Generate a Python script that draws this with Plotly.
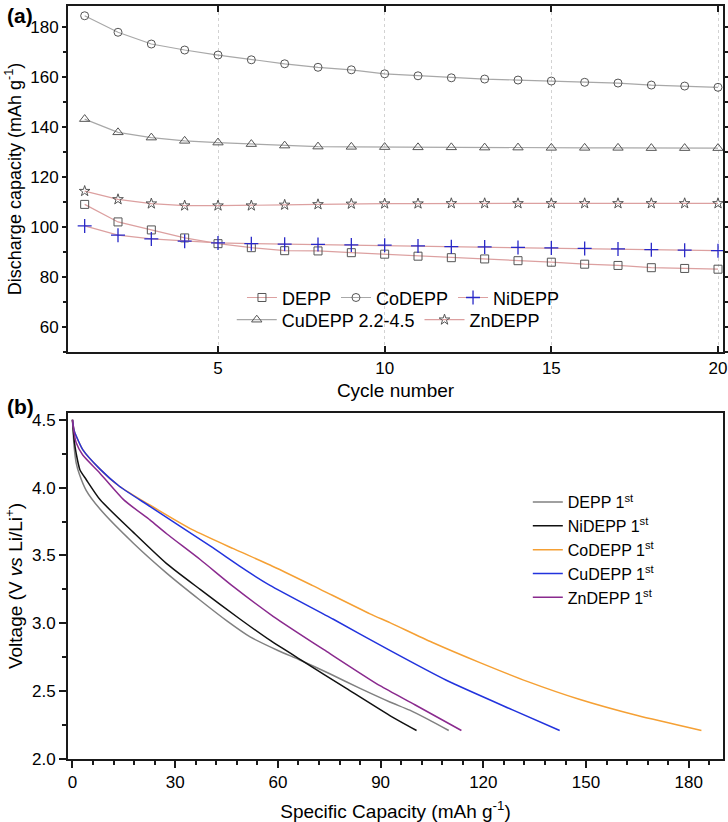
import plotly.graph_objects as go

# ---------- Panel (a) data ----------
cycles = list(range(1, 21))
depp = [109.0, 102.0, 98.8, 95.6, 93.3, 91.7, 90.5, 90.4, 89.7, 89.1,
        88.3, 87.7, 87.2, 86.5, 85.9, 85.1, 84.6, 83.7, 83.4, 83.1]
codepp = [184.4, 177.8, 173.1, 170.7, 168.7, 166.8, 165.2, 163.8, 162.8, 161.2,
          160.4, 159.6, 159.1, 158.7, 158.3, 157.8, 157.5, 156.7, 156.3, 155.8]
nidepp = [100.4, 96.7, 95.2, 94.3, 93.6, 93.3, 93.1, 93.0, 92.8, 92.7,
          92.4, 92.1, 92.0, 91.8, 91.6, 91.4, 91.2, 90.9, 90.7, 90.5]
cudepp = [143.1, 137.8, 135.7, 134.4, 133.7, 133.1, 132.5, 132.1, 132.0, 131.9,
          131.8, 131.8, 131.7, 131.7, 131.6, 131.6, 131.6, 131.5, 131.5, 131.5]
zndepp = [114.3, 111.0, 109.3, 108.5, 108.5, 108.5, 108.8, 109.0, 109.2, 109.3,
          109.3, 109.4, 109.4, 109.4, 109.4, 109.4, 109.4, 109.4, 109.4, 109.4]

# ---------- Panel (b) data ----------
depp_cap = [0, 0.5, 1.1, 2, 4, 8.1, 17.8, 27.5, 37.3, 45, 51.9, 60, 66.4, 75, 84, 92.7, 98.5, 104, 109.9]
depp_v = [4.5, 4.3, 4.18, 4.10, 3.98, 3.84, 3.59, 3.37, 3.17, 3.02, 2.90, 2.80, 2.73, 2.63, 2.52, 2.42, 2.36, 2.29, 2.21]
ni_cap = [0, 0.5, 1.1, 2.2, 4, 8.1, 17.8, 27.5, 37.3, 49, 58, 67.4, 80, 92.7, 100.5]
ni_v = [4.5, 4.35, 4.25, 4.13, 4.06, 3.91, 3.67, 3.44, 3.25, 3.03, 2.87, 2.72, 2.52, 2.32, 2.21]
co_cap = [0, 0.5, 1.1, 3, 7.9, 13.7, 22.7, 35, 47, 57.7, 70, 86.9, 92.7, 105, 119, 133, 148, 165, 183.7]
co_v = [4.5, 4.42, 4.38, 4.28, 4.14, 4.01, 3.87, 3.69, 3.55, 3.43, 3.28, 3.07, 3.005, 2.86, 2.71, 2.57, 2.44, 2.32, 2.21]
cu_cap = [0, 0.5, 1.1, 3, 7.9, 13.7, 22.7, 40.2, 50.7, 57.7, 76.2, 92.7, 109.2, 128.7, 142.3]
cu_v = [4.5, 4.42, 4.38, 4.28, 4.14, 4.01, 3.86, 3.57, 3.39, 3.28, 3.03, 2.80, 2.58, 2.36, 2.21]
zn_cap = [0, 0.5, 1.1, 3, 7.9, 15, 22.7, 27.5, 37.3, 47, 58.7, 75, 89.8, 100, 113.6]
zn_v = [4.5, 4.40, 4.33, 4.24, 4.11, 3.91, 3.76, 3.66, 3.47, 3.27, 3.05, 2.78, 2.54, 2.40, 2.21]

FONT = "Liberation Sans, Arial, sans-serif"
PINK = "#dca0a0"
GREY = "#a8a8a8"
MK = "#555555"

fig = go.Figure()

# Panel (a) traces
fig.add_trace(go.Scatter(x=cycles, y=depp, name="DEPP", mode="lines+markers",
                         line=dict(color=PINK, width=1.2),
                         marker=dict(symbol="square-open", size=8, color=MK, line=dict(width=1)),
                         xaxis="x", yaxis="y", legend="legend"))
fig.add_trace(go.Scatter(x=cycles, y=codepp, name="CoDEPP", mode="lines+markers",
                         line=dict(color=GREY, width=1.2),
                         marker=dict(symbol="circle-open", size=8, color=MK, line=dict(width=1)),
                         xaxis="x", yaxis="y", legend="legend"))
fig.add_trace(go.Scatter(x=cycles, y=nidepp, name="NiDEPP", mode="lines+markers",
                         line=dict(color=PINK, width=1.2),
                         marker=dict(symbol="cross-thin-open", size=10, color="#2828c8", line=dict(width=1.3, color="#2828c8")),
                         xaxis="x", yaxis="y", legend="legend"))
fig.add_trace(go.Scatter(x=cycles, y=cudepp, name="CuDEPP 2.2-4.5", mode="lines+markers",
                         line=dict(color=GREY, width=1.2),
                         marker=dict(symbol="triangle-up-open", size=9, color=MK, line=dict(width=1)),
                         xaxis="x", yaxis="y", legend="legend2"))
fig.add_trace(go.Scatter(x=cycles, y=zndepp, name="ZnDEPP", mode="lines+markers",
                         line=dict(color=PINK, width=1.2),
                         marker=dict(symbol="star-open", size=8, color=MK, line=dict(width=1)),
                         xaxis="x", yaxis="y", legend="legend2"))

# Panel (b) traces
curves = [
    ("DEPP 1<sup>st</sup>", depp_cap, depp_v, "#808080"),
    ("NiDEPP 1<sup>st</sup>", ni_cap, ni_v, "#111111"),
    ("CoDEPP 1<sup>st</sup>", co_cap, co_v, "#f5a034"),
    ("CuDEPP 1<sup>st</sup>", cu_cap, cu_v, "#2233dd"),
    ("ZnDEPP 1<sup>st</sup>", zn_cap, zn_v, "#8a2a8e"),
]
for name, xs, ys, col in curves:
    fig.add_trace(go.Scatter(x=xs, y=ys, name=name, mode="lines",
                             line=dict(color=col, width=1.5, shape="spline", smoothing=0.6),
                             xaxis="x2", yaxis="y2", legend="legend3"))

axis_common = dict(showline=True, linewidth=2, linecolor="#1a1a1a",
                   tickfont=dict(size=17, family=FONT, color="black"),
                   tickcolor="#1a1a1a", zeroline=False, automargin=False)

fig.update_layout(
    width=728, height=822,
    margin=dict(l=68, r=5, t=6, b=63, autoexpand=False),
    paper_bgcolor="white", plot_bgcolor="white",
    font=dict(family=FONT, color="black"),
    xaxis=dict(domain=[0, 1], anchor="y", range=[0.5, 20.15],
               tickvals=[5, 10, 15, 20], ticks="inside", ticklen=6, tickwidth=1.5,
               mirror="ticks", showgrid=True, griddash="dot", gridcolor="#d2d2d2", gridwidth=1,
               title=dict(text="Cycle number", font=dict(size=19, family=FONT), standoff=6),
               **axis_common),
    yaxis=dict(domain=[0.5405, 1], anchor="x", range=[50, 188.3],
               tickvals=[60, 80, 100, 120, 140, 160, 180], ticks="outside", ticklen=4, tickwidth=1.5,
               minor=dict(dtick=10, tick0=0, ticks="outside", ticklen=3, tickcolor="#1a1a1a", showgrid=False),
               mirror="ticks", showgrid=False,
               title=dict(text="Discharge capacity (mAh g<sup>-1</sup>)", font=dict(size=18, family=FONT), standoff=4),
               **axis_common),
    xaxis2=dict(domain=[0, 1], anchor="y2", range=[-1.3, 190],
                tickvals=[0, 30, 60, 90, 120, 150, 180], ticks="outside", ticklen=7, tickwidth=1.5,
                minor=dict(dtick=6, tick0=0, ticks="outside", ticklen=4, tickcolor="#1a1a1a", showgrid=False),
                mirror=True, showgrid=False,
                title=dict(text="Specific Capacity (mAh g<sup>-1</sup>)", font=dict(size=19, family=FONT), standoff=13),
                **axis_common),
    yaxis2=dict(domain=[0, 0.4595], anchor="x2", range=[2.0, 4.55],
                tickvals=[2.0, 2.5, 3.0, 3.5, 4.0, 4.5], tickformat=".1f", ticks="outside", ticklen=7, tickwidth=1.5,
                minor=dict(dtick=0.25, tick0=2.0, ticks="outside", ticklen=4, tickcolor="#1a1a1a", showgrid=False),
                mirror=True, showgrid=False,
                title=dict(text="Voltage (V <i>vs</i> Li/Li<sup>+</sup>)", font=dict(size=19, family=FONT), standoff=4),
                **axis_common),
    legend=dict(orientation="h", x=0.2656, y=0.6125, xanchor="left", yanchor="middle",
                font=dict(size=18, family=FONT), bgcolor="rgba(0,0,0,0)"),
    legend2=dict(orientation="h", x=0.250, y=0.583, xanchor="left", yanchor="middle",
                 font=dict(size=18, family=FONT), bgcolor="rgba(0,0,0,0)", itemwidth=40),
    legend3=dict(orientation="v", x=0.702, y=0.278, xanchor="left", yanchor="middle",
                 font=dict(size=16, family=FONT), bgcolor="rgba(0,0,0,0)"),
    annotations=[
        dict(text="<b>(a)</b>", x=-0.0962, y=0.988, xref="paper", yref="paper",
             xanchor="left", yanchor="middle", showarrow=False, font=dict(size=21, family=FONT)),
        dict(text="<b>(b)</b>", x=-0.0962, y=0.4675, xref="paper", yref="paper",
             xanchor="left", yanchor="middle", showarrow=False, font=dict(size=21, family=FONT)),
    ],
)

# remove the browser's default 8px body margin so the figure sits at the page origin
fig.write_html("out.html", config={"displayModeBar": False},
               post_script="document.body.style.margin='0px';")
